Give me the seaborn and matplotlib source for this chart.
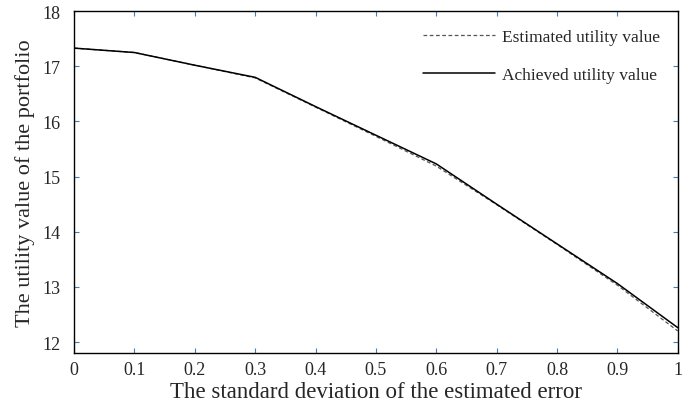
import matplotlib
matplotlib.use("Agg")
import matplotlib.pyplot as plt
import seaborn as sns
import pandas as pd

x_values = [0.0, 0.1, 0.2, 0.3, 0.4, 0.5, 0.6, 0.7, 0.8, 0.9, 1.0]
estimated = [17.33, 17.25, 17.02, 16.79, 16.26, 15.73, 15.19, 14.49, 13.77, 13.03, 12.20]
achieved = [17.33, 17.25, 17.02, 16.80, 16.27, 15.75, 15.23, 14.50, 13.78, 13.06, 12.26]
x_ticks = [0, 0.1, 0.2, 0.3, 0.4, 0.5, 0.6, 0.7, 0.8, 0.9, 1]
x_tick_labels = ["0", "0.1", "0.2", "0.3", "0.4", "0.5", "0.6", "0.7", "0.8", "0.9", "1"]
y_ticks = [12, 13, 14, 15, 16, 17, 18]

sns.set_style("ticks")
plt.rcParams['font.family'] = ['Liberation Serif', 'DejaVu Serif']

df = pd.DataFrame({"x": x_values, "Estimated utility value": estimated,
                   "Achieved utility value": achieved})

fig = plt.figure(figsize=(6.86, 4.06), dpi=100)
ax = fig.add_axes([0.108, 0.128, 0.880, 0.842])

sns.lineplot(data=df, x="x", y="Estimated utility value", ax=ax, color="#555555",
             linestyle=(0, (3, 2)), linewidth=0.9, label="Estimated utility value")
sns.lineplot(data=df, x="x", y="Achieved utility value", ax=ax, color="black",
             linewidth=1.1, label="Achieved utility value")

ax.set_xlim(0, 1.0)
ax.set_ylim(11.8, 18)
ax.set_xticks(x_ticks)
ax.set_xticklabels(x_tick_labels)
ax.set_yticks(y_ticks)
ax.tick_params(direction="in", length=3.5, color="#4a78c0", labelsize=13,
               top=True, right=True)
ax.tick_params(axis="y", pad=10)
ax.tick_params(axis="x", pad=6)
for s in ax.spines.values():
    s.set_color("black")
    s.set_linewidth(1.0)

ax.set_xlabel("The standard deviation of the estimated error", fontsize=16.5, labelpad=2)
ax.set_ylabel("The utility value of the portfolio", fontsize=16, labelpad=5)

leg = ax.legend(loc="upper right", frameon=False, fontsize=12.5, handlelength=4.2,
                labelspacing=1.3, borderaxespad=0.6, handletextpad=0.4)

fig.savefig("out.png", dpi=100, facecolor="white")
